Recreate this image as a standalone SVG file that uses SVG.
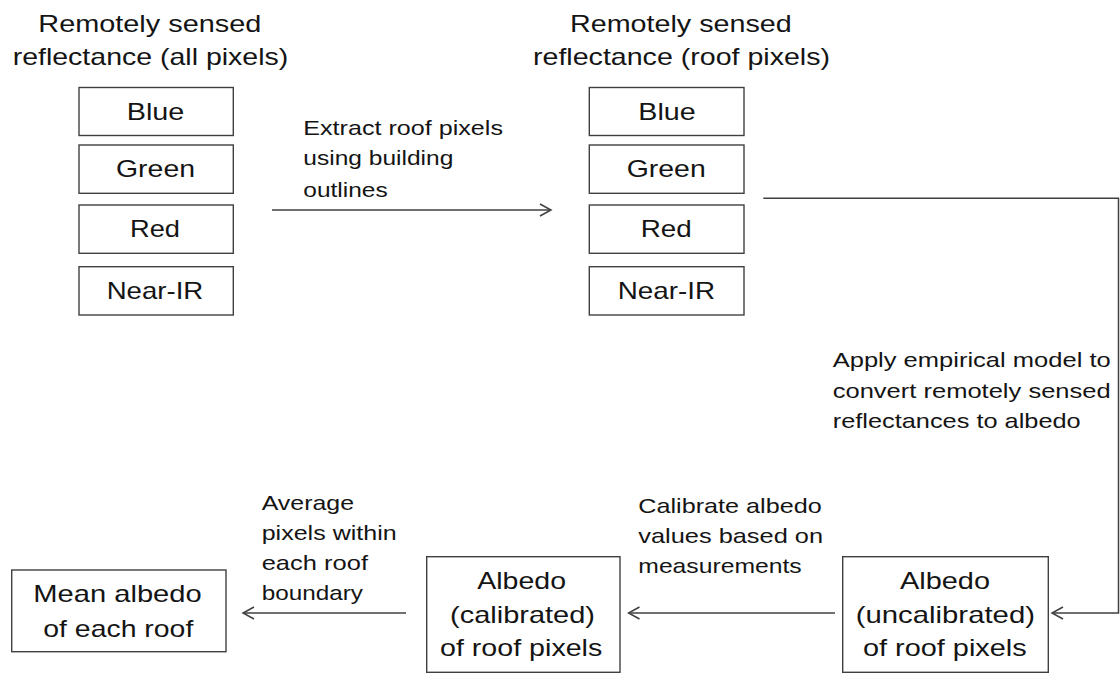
<svg xmlns="http://www.w3.org/2000/svg" width="1120" height="678" viewBox="0 0 1120 678">
<style>
  .box { fill: #ffffff; stroke: #404040; stroke-width: 1.4; }
  .t24 { font-family: "Liberation Sans", Arial, sans-serif; font-size: 24px; fill: #141414; }
  .t21 { font-family: "Liberation Sans", Arial, sans-serif; font-size: 21px; fill: #141414; }
  .conn { fill: none; stroke: #404040; stroke-width: 1.5; }
</style>
<defs>
  <marker id="arr" markerUnits="userSpaceOnUse" markerWidth="14" markerHeight="14" viewBox="0 0 14 14" refX="12" refY="7" orient="auto">
    <path d="M1,1 L12,7 L1,13" fill="none" stroke="#404040" stroke-width="1.5"/>
  </marker>
</defs>
<rect width="1120" height="678" fill="#ffffff"/>

<g id="title-all">
  <text class="t24" x="38.3" y="32.3" textLength="223" lengthAdjust="spacingAndGlyphs">Remotely sensed</text>
  <text class="t24" x="12.7" y="65" textLength="275.6" lengthAdjust="spacingAndGlyphs">reflectance (all pixels)</text>
</g>
<g id="title-roof">
  <text class="t24" x="570" y="32.3" textLength="221.7" lengthAdjust="spacingAndGlyphs">Remotely sensed</text>
  <text class="t24" x="533" y="65" textLength="297" lengthAdjust="spacingAndGlyphs">reflectance (roof pixels)</text>
</g>

<g id="all-blue"><rect class="box" x="79" y="87.5" width="154.3" height="48"/><text class="t24" x="126.7" y="119.5" textLength="57.6" lengthAdjust="spacingAndGlyphs">Blue</text></g>
<g id="all-green"><rect class="box" x="79" y="145" width="154.3" height="48.3"/><text class="t24" x="116" y="176.8" textLength="79" lengthAdjust="spacingAndGlyphs">Green</text></g>
<g id="all-red"><rect class="box" x="79" y="205" width="154.3" height="48.3"/><text class="t24" x="130" y="237" textLength="50" lengthAdjust="spacingAndGlyphs">Red</text></g>
<g id="all-nir"><rect class="box" x="79" y="266.7" width="154.3" height="48.3"/><text class="t24" x="106.7" y="298.5" textLength="96.6" lengthAdjust="spacingAndGlyphs">Near-IR</text></g>

<g id="roof-blue"><rect class="box" x="589.3" y="87.5" width="154.7" height="48"/><text class="t24" x="638.3" y="119.5" textLength="57.4" lengthAdjust="spacingAndGlyphs">Blue</text></g>
<g id="roof-green"><rect class="box" x="589.3" y="145" width="154.7" height="48.3"/><text class="t24" x="626.7" y="176.8" textLength="79" lengthAdjust="spacingAndGlyphs">Green</text></g>
<g id="roof-red"><rect class="box" x="589.3" y="205" width="154.7" height="48.3"/><text class="t24" x="640.7" y="237" textLength="51" lengthAdjust="spacingAndGlyphs">Red</text></g>
<g id="roof-nir"><rect class="box" x="589.3" y="266.7" width="154.7" height="48.3"/><text class="t24" x="617.7" y="298.5" textLength="97.3" lengthAdjust="spacingAndGlyphs">Near-IR</text></g>

<g id="albedo-uncal">
  <rect class="box" x="842.7" y="556.7" width="205.6" height="115.6"/>
  <text class="t24" x="900" y="589" textLength="90" lengthAdjust="spacingAndGlyphs">Albedo</text>
  <text class="t24" x="855.7" y="623" textLength="179.3" lengthAdjust="spacingAndGlyphs">(uncalibrated)</text>
  <text class="t24" x="863" y="656" textLength="163.7" lengthAdjust="spacingAndGlyphs">of roof pixels</text>
</g>
<g id="albedo-cal">
  <rect class="box" x="426.7" y="556.7" width="193.3" height="115.6"/>
  <text class="t24" x="477.3" y="589" textLength="88.7" lengthAdjust="spacingAndGlyphs">Albedo</text>
  <text class="t24" x="450" y="623" textLength="145" lengthAdjust="spacingAndGlyphs">(calibrated)</text>
  <text class="t24" x="440" y="656" textLength="162.3" lengthAdjust="spacingAndGlyphs">of roof pixels</text>
</g>
<g id="mean-albedo">
  <rect class="box" x="11.7" y="570" width="214.3" height="81.7"/>
  <text class="t24" x="33.3" y="601.7" textLength="168.4" lengthAdjust="spacingAndGlyphs">Mean albedo</text>
  <text class="t24" x="43.3" y="636.7" textLength="150" lengthAdjust="spacingAndGlyphs">of each roof</text>
</g>

<g id="connectors">
  <path class="conn" d="M272,210 H551" marker-end="url(#arr)"/>
  <path class="conn" d="M763.3,198.3 H1118.5 V613 H1052" marker-end="url(#arr)"/>
  <path class="conn" d="M835,613 H628.5" marker-end="url(#arr)"/>
  <path class="conn" d="M406,613 H243" marker-end="url(#arr)"/>
</g>

<g id="labels">
  <text class="t21" x="303.3" y="135" textLength="199.7" lengthAdjust="spacingAndGlyphs">Extract roof pixels</text>
  <text class="t21" x="303.3" y="165" textLength="150" lengthAdjust="spacingAndGlyphs">using building</text>
  <text class="t21" x="303.3" y="196.7" textLength="84.4" lengthAdjust="spacingAndGlyphs">outlines</text>

  <text class="t21" x="832.7" y="366.7" textLength="278" lengthAdjust="spacingAndGlyphs">Apply empirical model to</text>
  <text class="t21" x="832.7" y="398.3" textLength="278" lengthAdjust="spacingAndGlyphs">convert remotely sensed</text>
  <text class="t21" x="832.7" y="428.3" textLength="248" lengthAdjust="spacingAndGlyphs">reflectances to albedo</text>

  <text class="t21" x="638.3" y="513.3" textLength="183.4" lengthAdjust="spacingAndGlyphs">Calibrate albedo</text>
  <text class="t21" x="638.3" y="543.3" textLength="184.7" lengthAdjust="spacingAndGlyphs">values based on</text>
  <text class="t21" x="638.3" y="573.3" textLength="163.4" lengthAdjust="spacingAndGlyphs">measurements</text>

  <text class="t21" x="261.7" y="510" textLength="92.3" lengthAdjust="spacingAndGlyphs">Average</text>
  <text class="t21" x="261.7" y="540" textLength="135" lengthAdjust="spacingAndGlyphs">pixels within</text>
  <text class="t21" x="261.7" y="570" textLength="106.3" lengthAdjust="spacingAndGlyphs">each roof</text>
  <text class="t21" x="261.7" y="600" textLength="101.3" lengthAdjust="spacingAndGlyphs">boundary</text>
</g>
</svg>
